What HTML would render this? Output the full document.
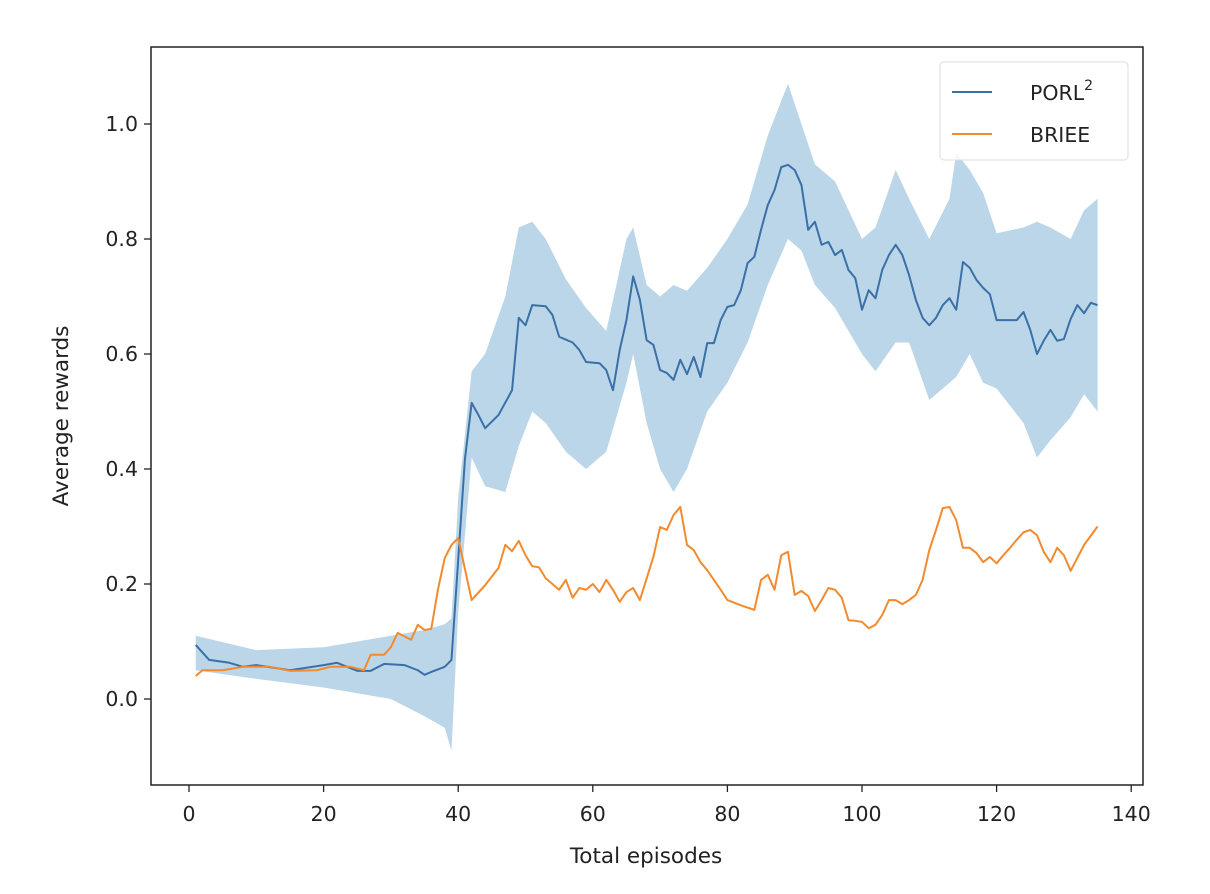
<!DOCTYPE html>
<html><head><meta charset="utf-8"><style>
html,body{margin:0;padding:0;background:#fff;}
svg{display:block;font-family:"DejaVu Sans","Liberation Sans",sans-serif;}
</style></head><body>
<svg id="chart" width="1210" height="894" viewBox="0 0 1210 894" xmlns="http://www.w3.org/2000/svg">
<g id="plot"></g>
</svg>
<script>
const xTicks=[0,20,40,60,80,100,120,140];
const yTicks=[0.0,0.2,0.4,0.6,0.8,1.0];
const yTickLabels=["0.0","0.2","0.4","0.6","0.8","1.0"];
const porlEp=[1,3,6,8,10,15,20,22,25,27,29,32,34,35,36,38,39,40,41,42,43,44,46,48,49,50,51,53,54,55,57,58,59,61,62,63,64,65,66,67,68,69,70,71,72,73,74,75,76,77,78,79,80,81,82,83,84,85,86,87,88,89,90,91,92,93,94,95,96,97,98,99,100,101,102,103,104,105,106,107,108,109,110,111,112,113,114,115,116,117,118,119,120,123,124,125,126,127,128,129,130,131,132,133,134,135];
const porlMean=[.094,.068,.063,.056,.059,.050,.059,.063,.049,.049,.061,.059,.050,.042,.047,.056,.068,.242,.417,.515,.494,.471,.494,.537,.663,.650,.685,.683,.668,.630,.620,.607,.586,.584,.572,.537,.607,.659,.735,.694,.624,.616,.572,.567,.555,.590,.565,.595,.560,.619,.619,.659,.682,.685,.711,.758,.769,.816,.859,.885,.925,.929,.920,.894,.816,.830,.790,.795,.772,.781,.746,.732,.677,.711,.697,.746,.772,.790,.772,.737,.694,.663,.650,.663,.685,.697,.677,.760,.750,.729,.715,.704,.659,.659,.673,.642,.600,.623,.642,.623,.626,.661,.685,.671,.689,.685];
const bandEp=[1,10,20,25,30,35,38,39,40,42,44,47,49,51,53,56,59,62,65,66,68,70,72,74,77,80,83,86,89,91,93,96,100,102,105,107,110,113,114,116,118,120,124,126,128,131,133,135];
const bandUpper=[.11,.085,.09,.10,.11,.12,.13,.14,.35,.57,.60,.70,.82,.83,.80,.73,.68,.64,.80,.82,.72,.70,.72,.71,.75,.80,.86,.98,1.07,1.0,.93,.90,.80,.82,.92,.87,.80,.87,.95,.92,.88,.81,.82,.83,.82,.80,.85,.87];
const bandLower=[.05,.035,.02,.01,0,-.03,-.05,-.09,.15,.42,.37,.36,.44,.50,.48,.43,.40,.43,.55,.60,.48,.40,.36,.40,.50,.55,.62,.72,.80,.78,.72,.68,.60,.57,.62,.62,.52,.55,.56,.60,.55,.54,.48,.42,.45,.49,.53,.50];
const brieeEp=[1,2,5,8,12,15,19,21,24,26,27,29,30,31,33,34,35,36,37,38,39,40,42,44,46,47,48,49,50,51,52,53,55,56,57,58,59,60,61,62,63,64,65,66,67,69,70,71,72,73,74,75,76,77,78,79,80,82,84,85,86,87,88,89,90,91,92,93,94,95,96,97,98,99,100,101,102,103,104,105,106,107,108,109,110,111,112,113,114,115,116,117,118,119,120,121,122,123,124,125,126,127,128,129,130,131,133,135];
const brieeVal=[.040,.050,.050,.056,.056,.049,.050,.056,.056,.050,.077,.077,.090,.115,.103,.129,.120,.122,.191,.245,.268,.280,.172,.198,.228,.268,.257,.275,.250,.231,.229,.210,.190,.207,.176,.193,.190,.200,.186,.207,.190,.169,.186,.193,.172,.247,.299,.294,.320,.334,.268,.259,.238,.224,.207,.190,.172,.163,.155,.207,.216,.190,.250,.256,.181,.188,.179,.153,.172,.193,.190,.176,.137,.136,.134,.123,.129,.146,.172,.172,.165,.172,.181,.207,.259,.294,.332,.334,.311,.263,.263,.254,.238,.247,.236,.250,.263,.277,.290,.294,.285,.256,.238,.263,.250,.223,.268,.300];

const NS="http://www.w3.org/2000/svg";
const g=document.getElementById('plot');
const L=151,R=1143,T=47,B=785;
const sx=v=>189+v*6.73;
const sy=v=>699-v*575;
function el(tag,attrs,parent){const e=document.createElementNS(NS,tag);for(const k in attrs)e.setAttribute(k,attrs[k]);(parent||g).appendChild(e);return e;}

let d='';
bandEp.forEach((e,i)=>{d+=(i?'L':'M')+sx(e)+','+sy(bandUpper[i]);});
for(let i=bandEp.length-1;i>=0;i--)d+='L'+sx(bandEp[i])+','+sy(bandLower[i]);
const band=el('path',{d:d+'Z',fill:'#1f77b4','fill-opacity':0.3,stroke:'none'});



const line1=el('polyline',{points:porlEp.map((e,i)=>sx(e)+','+sy(porlMean[i])).join(' '),fill:'none',stroke:'#3a70a8','stroke-width':2,'stroke-linejoin':'round'});


const line2=el('polyline',{points:brieeEp.map((e,i)=>sx(e)+','+sy(brieeVal[i])).join(' '),fill:'none',stroke:'#f28a2e','stroke-width':2,'stroke-linejoin':'round'});



const frame=el('rect',{x:L,y:T,width:R-L,height:B-T,fill:'none',stroke:'#222','stroke-width':1.5});



xTicks.forEach(t=>{
  const tk=el('line',{x1:sx(t),x2:sx(t),y1:B,y2:B+7,stroke:'#222','stroke-width':1.3});
  
  
  const tx=el('text',{x:sx(t),y:B+36,'text-anchor':'middle','font-size':20.5,fill:'#222'});
  tx.textContent=String(t);
  
  
});
yTicks.forEach((t,i)=>{
  const tk=el('line',{x1:L-7,x2:L,y1:sy(t),y2:sy(t),stroke:'#222','stroke-width':1.3});
  
  
  const tx=el('text',{x:L-13,y:sy(t)+7,'text-anchor':'end','font-size':20.5,fill:'#222'});
  tx.textContent=yTickLabels[i];
  
  
});
const xl=el('text',{x:646,y:863,'text-anchor':'middle','font-size':21.5,fill:'#222'});
xl.textContent='Total episodes';


const yl=el('text',{x:0,y:0,'text-anchor':'middle','font-size':21.5,fill:'#222',transform:'translate(68,416) rotate(-90)'});
yl.textContent='Average rewards';



const lg=el('g',{});


el('rect',{x:940,y:62,width:188,height:98,rx:4,fill:'#fff','fill-opacity':0.85,stroke:'#ddd','stroke-width':1},lg);
el('line',{x1:952,x2:992,y1:92,y2:92,stroke:'#3a70a8','stroke-width':2},lg);
el('line',{x1:952,x2:992,y1:134,y2:134,stroke:'#f28a2e','stroke-width':2},lg);
const t1=el('text',{x:1030,y:100,'font-size':20.5,fill:'#222'},lg);
t1.innerHTML='PORL<tspan dy="-10" font-size="14">2</tspan>';


const t2=el('text',{x:1030,y:142,'font-size':20.5,fill:'#222'},lg);
t2.textContent='BRIEE';


</script>
</body></html>
